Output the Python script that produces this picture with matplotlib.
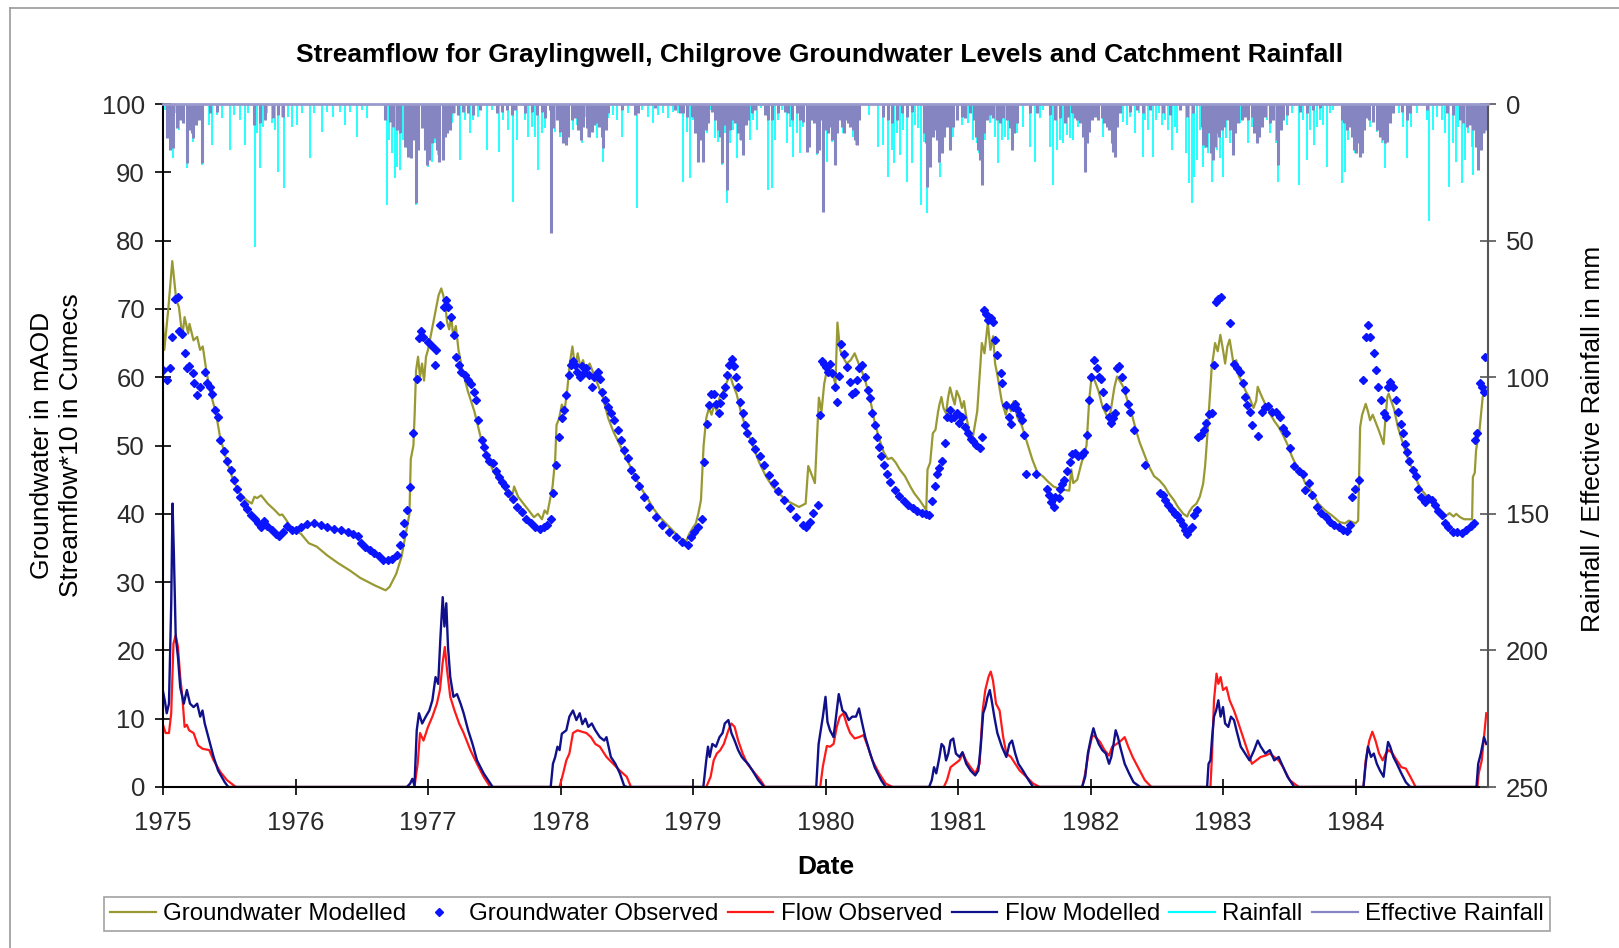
import matplotlib
matplotlib.use("Agg")
import matplotlib.pyplot as plt
from matplotlib.lines import Line2D

plt.rcParams['font.family'] = ['Liberation Sans', 'DejaVu Sans']

# ---- data (dates as decimal years) ----
years = [1975, 1976, 1977, 1978, 1979, 1980, 1981, 1982, 1983, 1984]

gw_modelled = [
    (1975.0, 68), (1975.01, 64), (1975.04, 70), (1975.07, 77), (1975.1, 71.3), (1975.12, 70.3),
    (1975.146, 66), (1975.163, 68.8), (1975.19, 66.4), (1975.2, 67.8), (1975.23, 65.4),
    (1975.258, 65.9), (1975.28, 64), (1975.3, 64.5), (1975.33, 60.6), (1975.36, 57.6),
    (1975.4, 54.7), (1975.43, 51.3), (1975.48, 47.8), (1975.53, 44.9), (1975.58, 43),
    (1975.63, 42), (1975.67, 41.5), (1975.69, 42.5), (1975.71, 42.3), (1975.74, 42.7),
    (1975.79, 41.5), (1975.84, 40.6), (1975.88, 39.8), (1975.9, 39.9), (1975.93, 39.1),
    (1975.97, 37.8), (1976.04, 37.1), (1976.1, 35.7), (1976.16, 35.2), (1976.24, 33.9),
    (1976.32, 32.8), (1976.41, 31.7), (1976.49, 30.6), (1976.6, 29.5), (1976.68, 28.8),
    (1976.71, 29.3), (1976.76, 31.2), (1976.8, 33.7), (1976.84, 37.9), (1976.86, 40),
    (1976.87, 48), (1976.89, 50), (1976.9, 55), (1976.91, 61), (1976.925, 63), (1976.94, 60),
    (1976.955, 62), (1976.97, 59.5), (1976.985, 63), (1977.0, 64), (1977.02, 66), (1977.04, 68),
    (1977.06, 70), (1977.08, 72), (1977.1, 73), (1977.115, 72), (1977.13, 70.5), (1977.145, 68),
    (1977.16, 67), (1977.175, 69), (1977.19, 66), (1977.21, 67.5), (1977.23, 64), (1977.26, 61),
    (1977.3, 58), (1977.35, 55), (1977.4, 51), (1977.45, 48), (1977.5, 46), (1977.55, 44.5),
    (1977.6, 43), (1977.63, 42), (1977.65, 44), (1977.68, 42.5), (1977.72, 41.5), (1977.76, 40.5),
    (1977.8, 39.5), (1977.83, 40), (1977.86, 39.2), (1977.88, 40.5), (1977.9, 40), (1977.92, 42),
    (1977.94, 44), (1977.96, 48), (1977.97, 53), (1977.99, 54), (1978.01, 56), (1978.03, 55),
    (1978.05, 58), (1978.07, 62), (1978.09, 64.5), (1978.11, 61.5), (1978.13, 63.5),
    (1978.15, 61.5), (1978.17, 62.5), (1978.19, 61), (1978.22, 62), (1978.25, 60.5),
    (1978.28, 59), (1978.32, 57), (1978.36, 54), (1978.4, 52), (1978.45, 50), (1978.5, 48),
    (1978.55, 46), (1978.6, 44), (1978.65, 42.5), (1978.7, 40.8), (1978.75, 39.5), (1978.8, 38.5),
    (1978.85, 37.5), (1978.9, 36.5), (1978.95, 36), (1978.97, 37), (1979.0, 38), (1979.02, 38.5),
    (1979.04, 40), (1979.06, 42), (1979.08, 50), (1979.1, 54), (1979.12, 55.5), (1979.14, 54.5),
    (1979.16, 56), (1979.18, 55), (1979.2, 57), (1979.23, 58), (1979.26, 59.5), (1979.28, 60.3),
    (1979.3, 59), (1979.33, 57.5), (1979.36, 55), (1979.4, 52.5), (1979.45, 50), (1979.5, 47.5),
    (1979.55, 45.5), (1979.6, 44), (1979.65, 43), (1979.7, 42), (1979.75, 41.5), (1979.8, 41),
    (1979.85, 41.5), (1979.87, 47), (1979.89, 46), (1979.92, 44.5), (1979.95, 57), (1979.97, 55),
    (1979.99, 59), (1980.01, 61), (1980.034, 61.5), (1980.06, 60), (1980.075, 59), (1980.09, 68),
    (1980.11, 64), (1980.13, 63), (1980.16, 62), (1980.19, 62.5), (1980.22, 63.5), (1980.25, 62),
    (1980.28, 60.6), (1980.3, 59.5), (1980.34, 56.5), (1980.37, 53.5), (1980.405, 51),
    (1980.44, 49), (1980.47, 48), (1980.5, 48.2), (1980.53, 47.5), (1980.56, 46.5), (1980.6, 45.5),
    (1980.64, 44), (1980.67, 43), (1980.71, 42), (1980.745, 41), (1980.76, 40.5), (1980.77, 46.5),
    (1980.79, 47.5), (1980.81, 51.8), (1980.83, 52.3), (1980.85, 55), (1980.86, 56),
    (1980.875, 57.1), (1980.89, 55.5), (1980.91, 54.7), (1980.925, 57), (1980.94, 58.5),
    (1980.96, 57), (1980.975, 56), (1980.99, 58), (1981.01, 57.1), (1981.03, 55.5),
    (1981.045, 56.5), (1981.06, 54.5), (1981.08, 52.5), (1981.11, 51), (1981.145, 55),
    (1981.18, 65), (1981.2, 63.5), (1981.225, 68), (1981.245, 64), (1981.265, 66), (1981.28, 62),
    (1981.3, 60), (1981.33, 56.5), (1981.36, 54.5), (1981.38, 56), (1981.4, 55), (1981.42, 56.5),
    (1981.45, 54), (1981.48, 53), (1981.52, 50.5), (1981.56, 48), (1981.6, 46), (1981.64, 45.5),
    (1981.68, 44.7), (1981.72, 44), (1981.76, 43.7), (1981.8, 43.5), (1981.84, 43.4),
    (1981.855, 46.5), (1981.87, 44.5), (1981.9, 45), (1981.93, 47.3), (1981.97, 50),
    (1981.99, 56.6), (1982.01, 60.5), (1982.03, 59.6), (1982.06, 58), (1982.09, 55.7),
    (1982.12, 54.5), (1982.14, 53.7), (1982.16, 56), (1982.18, 58.5), (1982.2, 60.1),
    (1982.22, 59.5), (1982.25, 58.5), (1982.28, 56.5), (1982.31, 54.7), (1982.34, 52.5),
    (1982.37, 50.5), (1982.4, 49), (1982.44, 47), (1982.48, 45.5), (1982.52, 44.9), (1982.56, 44),
    (1982.59, 43), (1982.63, 42), (1982.66, 41), (1982.7, 40), (1982.73, 39.6), (1982.745, 40.3),
    (1982.77, 41), (1982.8, 41.5), (1982.825, 42.5), (1982.85, 44.4), (1982.865, 47),
    (1982.88, 51), (1982.897, 56), (1982.915, 61.5), (1982.93, 63.5), (1982.94, 65),
    (1982.96, 63.8), (1982.98, 66.2), (1983.0, 64), (1983.016, 62), (1983.033, 64.5),
    (1983.05, 65.5), (1983.067, 63.5), (1983.083, 61.5), (1983.1, 62.5), (1983.12, 60.1),
    (1983.14, 59.5), (1983.17, 58), (1983.2, 57), (1983.23, 55.5), (1983.25, 56.5),
    (1983.262, 58.6), (1983.285, 57.5), (1983.32, 56), (1983.353, 54.7), (1983.39, 53.5),
    (1983.42, 52.7), (1983.454, 51.5), (1983.49, 50), (1983.52, 48.4), (1983.555, 47),
    (1983.59, 45.9), (1983.62, 44.5), (1983.66, 43.5), (1983.69, 42.5), (1983.72, 41.5),
    (1983.76, 40.7), (1983.79, 40.2), (1983.82, 39.8), (1983.85, 39.3), (1983.88, 38.8),
    (1983.92, 38.6), (1983.95, 39), (1984.0, 38.6), (1984.02, 39), (1984.035, 52.7),
    (1984.05, 54.5), (1984.077, 56.1), (1984.094, 55), (1984.11, 53.7), (1984.13, 54.5),
    (1984.15, 53.5), (1984.18, 52), (1984.212, 50.2), (1984.225, 53.7), (1984.24, 57.1),
    (1984.25, 57.6), (1984.27, 56.5), (1984.29, 55.4), (1984.32, 52.7), (1984.35, 50.8),
    (1984.38, 49), (1984.41, 47.3), (1984.44, 46.3), (1984.47, 44.5), (1984.5, 43.5),
    (1984.54, 42.5), (1984.58, 41.5), (1984.62, 40.6), (1984.66, 39.3), (1984.69, 39.8),
    (1984.71, 40.1), (1984.74, 39.6), (1984.76, 40), (1984.79, 39.5), (1984.82, 39.2),
    (1984.88, 39.2), (1984.886, 45.4), (1984.9, 46), (1984.91, 49.3), (1984.936, 52.3),
    (1984.96, 57.1), (1984.98, 58.6),
]

gw_observed = [
    (1975.002, 61.0), (1975.029, 59.6), (1975.055, 61.3), (1975.069, 65.9), (1975.089, 71.4),
    (1975.113, 71.7), (1975.123, 66.8), (1975.146, 66.3), (1975.163, 63.5), (1975.18, 61.3),
    (1975.197, 61.6), (1975.224, 60.6), (1975.237, 59.1), (1975.258, 57.4), (1975.281, 58.6),
    (1975.315, 60.8), (1975.332, 59.2), (1975.355, 58.6), (1975.372, 57.5), (1975.392, 55.2),
    (1975.416, 54.2), (1975.433, 50.8), (1975.46, 49.2), (1975.483, 47.8), (1975.51, 46.4),
    (1975.534, 44.9), (1975.561, 43.7), (1975.584, 42.5), (1975.608, 41.5), (1975.635, 40.7),
    (1975.662, 39.8), (1975.696, 39.2), (1975.719, 38.7), (1975.736, 38.0), (1975.763, 38.9),
    (1975.787, 38.2), (1975.82, 37.6), (1975.854, 37.0), (1975.878, 36.7), (1975.905, 37.4),
    (1975.938, 38.2), (1975.972, 37.7), (1976.006, 37.6), (1976.04, 38.1), (1976.09, 38.5),
    (1976.14, 38.6), (1976.191, 38.3), (1976.241, 38.1), (1976.292, 37.8), (1976.342, 37.6),
    (1976.393, 37.4), (1976.437, 37.1), (1976.471, 36.7), (1976.494, 35.7), (1976.528, 35.2),
    (1976.562, 34.7), (1976.595, 34.3), (1976.629, 33.8), (1976.663, 33.2), (1976.696, 33.2),
    (1976.73, 33.4), (1976.764, 33.9), (1976.787, 35.5), (1976.808, 37.1), (1976.821, 38.6),
    (1976.841, 40.6), (1976.861, 43.9), (1976.888, 51.8), (1976.915, 59.8), (1976.932, 65.7),
    (1976.949, 66.7), (1976.966, 65.9), (1977.0, 65.2), (1977.033, 64.5), (1977.05, 61.8),
    (1977.057, 64.0), (1977.091, 67.6), (1977.118, 70.3), (1977.134, 71.3), (1977.151, 70.3),
    (1977.175, 68.8), (1977.195, 66.2), (1977.212, 63.0), (1977.235, 61.8), (1977.252, 60.8),
    (1977.279, 60.3), (1977.303, 59.6), (1977.326, 59.0), (1977.346, 57.9), (1977.363, 56.6),
    (1977.38, 53.7), (1977.404, 50.8), (1977.421, 49.8), (1977.438, 48.6), (1977.461, 47.8),
    (1977.488, 47.5), (1977.515, 46.2), (1977.539, 45.4), (1977.562, 44.7), (1977.582, 44.0),
    (1977.606, 43.0), (1977.64, 42.1), (1977.673, 41.0), (1977.707, 40.2), (1977.741, 39.3),
    (1977.775, 38.6), (1977.808, 38.1), (1977.842, 37.8), (1977.876, 38.0), (1977.899, 38.3),
    (1977.926, 39.3), (1977.943, 43.0), (1977.966, 47.1), (1977.987, 51.3), (1978.01, 54.0),
    (1978.027, 55.2), (1978.044, 57.4), (1978.061, 60.3), (1978.078, 61.8), (1978.095, 62.3),
    (1978.111, 61.8), (1978.128, 60.8), (1978.145, 60.1), (1978.162, 61.6), (1978.179, 60.6),
    (1978.196, 61.3), (1978.213, 60.3), (1978.236, 58.6), (1978.256, 60.1), (1978.28, 60.8),
    (1978.297, 59.8), (1978.314, 57.9), (1978.337, 56.6), (1978.357, 55.7), (1978.381, 54.7),
    (1978.405, 53.7), (1978.431, 52.3), (1978.458, 50.8), (1978.482, 49.4), (1978.506, 48.1),
    (1978.532, 46.4), (1978.56, 45.4), (1978.593, 44.0), (1978.627, 42.5), (1978.667, 41.0),
    (1978.718, 39.6), (1978.768, 38.3), (1978.819, 37.4), (1978.87, 36.6), (1978.92, 35.9),
    (1978.964, 35.4), (1978.987, 36.6), (1979.011, 37.4), (1979.038, 38.1), (1979.065, 39.3),
    (1979.082, 47.6), (1979.105, 53.2), (1979.122, 55.9), (1979.139, 57.5), (1979.156, 57.6),
    (1979.173, 56.1), (1979.193, 54.7), (1979.206, 56.2), (1979.223, 57.4), (1979.24, 58.6),
    (1979.257, 60.3), (1979.274, 61.8), (1979.291, 62.6), (1979.307, 61.6), (1979.324, 60.1),
    (1979.341, 58.6), (1979.358, 56.4), (1979.375, 54.7), (1979.392, 53.0), (1979.409, 51.8),
    (1979.442, 50.6), (1979.469, 49.5), (1979.503, 48.4), (1979.537, 47.2), (1979.577, 45.7),
    (1979.611, 44.5), (1979.645, 43.3), (1979.685, 42.0), (1979.729, 40.8), (1979.779, 39.6),
    (1979.83, 38.3), (1979.853, 38.0), (1979.88, 38.8), (1979.907, 40.1), (1979.941, 41.3),
    (1979.962, 54.5), (1979.975, 62.3), (1979.99, 62.0), (1980.005, 61.5), (1980.02, 60.8),
    (1980.034, 62.0), (1980.051, 60.6), (1980.068, 58.6), (1980.085, 56.4), (1980.101, 60.2),
    (1980.118, 64.9), (1980.142, 63.4), (1980.162, 61.5), (1980.186, 59.3), (1980.202, 57.6),
    (1980.219, 57.8), (1980.236, 59.6), (1980.253, 61.3), (1980.277, 61.8), (1980.297, 60.1),
    (1980.32, 58.1), (1980.337, 56.9), (1980.354, 54.8), (1980.371, 53.0), (1980.388, 51.3),
    (1980.405, 49.8), (1980.421, 48.4), (1980.438, 47.2), (1980.465, 45.9), (1980.489, 44.7),
    (1980.523, 43.5), (1980.556, 42.6), (1980.59, 41.9), (1980.624, 41.3), (1980.657, 40.8),
    (1980.691, 40.4), (1980.725, 40.1), (1980.758, 39.9), (1980.782, 39.8), (1980.802, 41.9),
    (1980.826, 44.0), (1980.843, 45.9), (1980.859, 46.7), (1980.876, 47.8), (1980.903, 50.3),
    (1980.917, 54.2), (1980.937, 55.2), (1980.95, 54.0), (1980.971, 54.2), (1980.994, 54.7),
    (1981.011, 53.3), (1981.031, 54.2), (1981.052, 52.7), (1981.072, 51.8), (1981.095, 51.0),
    (1981.112, 50.6), (1981.139, 50.1), (1981.163, 49.6), (1981.18, 51.3), (1981.196, 69.8),
    (1981.213, 69.3), (1981.23, 68.4), (1981.247, 68.6), (1981.264, 68.1), (1981.281, 65.4),
    (1981.297, 63.2), (1981.321, 60.6), (1981.331, 59.1), (1981.365, 55.9), (1981.382, 54.2),
    (1981.399, 53.2), (1981.415, 55.7), (1981.432, 56.1), (1981.449, 55.4), (1981.466, 54.5),
    (1981.483, 53.7), (1981.5, 51.5), (1981.516, 45.9), (1981.59, 45.9), (1981.668, 43.7),
    (1981.685, 42.7), (1981.702, 41.8), (1981.725, 41.0), (1981.735, 42.5), (1981.759, 42.3),
    (1981.769, 43.7), (1981.786, 44.4), (1981.803, 44.9), (1981.82, 46.2), (1981.847, 47.6),
    (1981.86, 48.8), (1981.88, 48.9), (1981.904, 48.4), (1981.938, 48.6), (1981.954, 49.1),
    (1981.971, 51.5), (1981.988, 56.6), (1982.005, 60.1), (1982.029, 62.5), (1982.049, 61.3),
    (1982.066, 60.1), (1982.083, 59.8), (1982.096, 57.9), (1982.116, 55.7), (1982.14, 54.2),
    (1982.157, 53.3), (1982.167, 54.0), (1982.184, 54.7), (1982.197, 61.3), (1982.217, 61.6),
    (1982.241, 60.1), (1982.264, 58.1), (1982.285, 56.1), (1982.298, 54.9), (1982.325, 52.3),
    (1982.41, 47.2), (1982.521, 43.0), (1982.544, 42.8), (1982.561, 42.0), (1982.588, 41.3),
    (1982.612, 40.6), (1982.635, 40.0), (1982.655, 39.8), (1982.679, 39.1), (1982.696, 38.3),
    (1982.713, 37.6), (1982.73, 37.0), (1982.746, 37.6), (1982.763, 38.1), (1982.78, 39.8),
    (1982.804, 40.6), (1982.814, 51.3), (1982.837, 51.5), (1982.857, 52.3), (1982.874, 53.3),
    (1982.891, 54.6), (1982.915, 54.8), (1982.932, 61.8), (1982.948, 71.0), (1982.965, 71.4),
    (1982.982, 71.7), (1983.05, 68.0), (1983.083, 62.0), (1983.107, 61.3), (1983.127, 60.8),
    (1983.151, 59.2), (1983.167, 57.1), (1983.184, 55.9), (1983.201, 54.9), (1983.218, 53.0),
    (1983.262, 51.4), (1983.295, 54.9), (1983.319, 55.7), (1983.336, 55.8), (1983.37, 54.9),
    (1983.403, 54.9), (1983.43, 54.2), (1983.454, 52.5), (1983.477, 51.8), (1983.504, 49.6),
    (1983.538, 47.0), (1983.572, 46.2), (1983.605, 45.9), (1983.622, 43.5), (1983.646, 44.5),
    (1983.673, 42.8), (1983.707, 41.0), (1983.74, 40.1), (1983.774, 39.6), (1983.808, 38.8),
    (1983.841, 38.3), (1983.875, 38.0), (1983.909, 37.6), (1983.936, 37.5), (1983.959, 38.3),
    (1983.976, 42.5), (1983.993, 43.7), (1984.027, 45.0), (1984.06, 59.6), (1984.077, 65.9),
    (1984.094, 67.7), (1984.111, 65.9), (1984.138, 63.6), (1984.151, 61.1), (1984.171, 58.6),
    (1984.195, 56.6), (1984.212, 54.7), (1984.229, 54.2), (1984.246, 58.6), (1984.263, 59.3),
    (1984.286, 58.6), (1984.306, 56.6), (1984.32, 54.9), (1984.34, 53.2), (1984.357, 51.8),
    (1984.374, 50.2), (1984.391, 49.1), (1984.407, 47.8), (1984.431, 46.4), (1984.454, 45.6),
    (1984.475, 43.7), (1984.498, 42.5), (1984.522, 41.8), (1984.549, 42.3), (1984.576, 42.0),
    (1984.599, 41.3), (1984.623, 40.4), (1984.65, 39.8), (1984.677, 38.7), (1984.7, 38.0),
    (1984.734, 37.4), (1984.768, 37.4), (1984.801, 37.2), (1984.835, 37.7), (1984.869, 38.2),
    (1984.893, 38.6), (1984.903, 50.8), (1984.92, 51.8), (1984.937, 59.1), (1984.953, 58.6),
    (1984.97, 57.9), (1984.98, 63.0),
]

# streamflow * 10 (cumecs)
flow_observed = [
    (1975.0, 9.1), (1975.02, 7.9), (1975.045, 7.9), (1975.062, 10.8), (1975.079, 21),
    (1975.096, 22.2), (1975.113, 20.5), (1975.13, 16.1), (1975.146, 13.2), (1975.163, 8.8),
    (1975.18, 9.1), (1975.197, 8.3), (1975.231, 7.9), (1975.264, 6.1), (1975.298, 5.6),
    (1975.349, 5.4), (1975.382, 3.9), (1975.433, 2.2), (1975.483, 1.0), (1975.55, 0),
    (1976.898, 0), (1976.922, 3.4), (1976.94, 7.9), (1976.966, 6.8), (1977.0, 8.8),
    (1977.033, 10.3), (1977.067, 12.2), (1977.09, 14.2), (1977.11, 18.1), (1977.127, 20.5),
    (1977.144, 17.1), (1977.168, 13.2), (1977.2, 11.2), (1977.235, 9.3), (1977.269, 7.9),
    (1977.32, 5.4), (1977.37, 3.4), (1977.42, 1.5), (1977.47, 0),
    (1977.993, 0), (1978.02, 2.0), (1978.044, 3.9), (1978.067, 4.9), (1978.094, 7.9),
    (1978.128, 8.3), (1978.16, 8.1), (1978.196, 7.9), (1978.23, 7.3), (1978.263, 6.3),
    (1978.297, 5.9), (1978.347, 4.4), (1978.398, 3.4), (1978.448, 2.4), (1978.5, 1.5),
    (1978.532, 0),
    (1979.1, 0), (1979.133, 1.5), (1979.156, 3.9), (1979.18, 4.9), (1979.206, 5.4),
    (1979.233, 6.3), (1979.267, 8.3), (1979.29, 9.3), (1979.314, 8.8), (1979.341, 6.8),
    (1979.375, 4.9), (1979.41, 3.4), (1979.459, 2.2), (1979.51, 1.0), (1979.543, 0),
    (1979.96, 0), (1979.98, 3.0), (1980.01, 6.0), (1980.034, 5.9), (1980.061, 6.3),
    (1980.085, 8.8), (1980.108, 10.3), (1980.135, 10.8), (1980.162, 9.1), (1980.186, 7.9),
    (1980.22, 7.1), (1980.253, 7.3), (1980.287, 7.6), (1980.32, 5.9), (1980.354, 3.9),
    (1980.405, 2.0), (1980.455, 0.5), (1980.506, 0),
    (1980.893, 0), (1980.917, 1.0), (1980.944, 2.9), (1980.977, 3.4), (1981.01, 3.9),
    (1981.038, 4.9), (1981.06, 3.9), (1981.095, 2.9), (1981.13, 2.0), (1981.163, 3.4),
    (1981.186, 11.2), (1981.206, 14.2), (1981.23, 16.1), (1981.247, 16.9), (1981.264, 15.6),
    (1981.287, 12.2), (1981.314, 11.2), (1981.341, 7.3), (1981.365, 4.9), (1981.399, 4.4),
    (1981.432, 3.4), (1981.466, 2.4), (1981.516, 1.5), (1981.567, 0.5), (1981.617, 0),
    (1981.937, 0), (1981.96, 2.0), (1981.988, 5.4), (1982.015, 7.6), (1982.039, 7.3),
    (1982.072, 6.6), (1982.106, 5.4), (1982.14, 4.6), (1982.163, 5.9), (1982.197, 6.3),
    (1982.231, 6.8), (1982.258, 7.3), (1982.285, 5.9), (1982.318, 4.4), (1982.358, 2.9),
    (1982.41, 1.0), (1982.46, 0),
    (1982.905, 0), (1982.918, 5.0), (1982.932, 12.7), (1982.951, 16.6), (1982.965, 15.1),
    (1982.982, 16.1), (1983.0, 14.2), (1983.026, 14.6), (1983.05, 12.7), (1983.083, 11.2),
    (1983.117, 9.3), (1983.151, 7.3), (1983.184, 5.4), (1983.218, 3.4), (1983.252, 3.9),
    (1983.285, 4.4), (1983.32, 4.6), (1983.353, 4.9), (1983.387, 4.4), (1983.42, 3.9),
    (1983.454, 2.9), (1983.504, 1.0), (1983.572, 0),
    (1984.06, 0), (1984.077, 3.9), (1984.104, 6.8), (1984.127, 8.1), (1984.151, 6.8),
    (1984.178, 4.9), (1984.205, 3.9), (1984.229, 4.9), (1984.252, 5.4), (1984.279, 4.9),
    (1984.312, 3.9), (1984.346, 2.9), (1984.38, 2.7), (1984.414, 1.5), (1984.454, 0),
    (1984.92, 0), (1984.93, 2.0), (1984.953, 3.9), (1984.97, 7.3), (1984.987, 10.8),
]

flow_modelled = [
    (1975.0, 14.0), (1975.015, 12.5), (1975.028, 10.8), (1975.045, 12.2), (1975.062, 26.8),
    (1975.072, 41.5), (1975.082, 34.2), (1975.096, 22), (1975.113, 19), (1975.13, 14.6),
    (1975.157, 12.2), (1975.18, 14.2), (1975.204, 12.2), (1975.231, 11.7), (1975.258, 12.2),
    (1975.281, 10.3), (1975.298, 11.2), (1975.315, 9.3), (1975.349, 6.8), (1975.382, 4.4),
    (1975.416, 2.4), (1975.466, 0.7), (1975.493, 0),
    (1976.84, 0), (1976.865, 0.5), (1976.882, 1.2), (1976.898, 0.2), (1976.915, 8.3),
    (1976.932, 10.8), (1976.956, 9.3), (1976.983, 10.3), (1977.01, 11.2), (1977.033, 12.7),
    (1977.057, 16.1), (1977.077, 15.1), (1977.094, 22), (1977.111, 27.8), (1977.124, 23.5),
    (1977.138, 26.9), (1977.151, 20.5), (1977.168, 16.1), (1977.192, 13.2), (1977.219, 13.6),
    (1977.246, 12.2), (1977.269, 10.8), (1977.303, 8.3), (1977.336, 6.3), (1977.37, 3.9),
    (1977.42, 2.0), (1977.488, 0),
    (1977.926, 0), (1977.943, 3.4), (1977.96, 4.4), (1977.977, 5.9), (1977.993, 5.4),
    (1978.01, 7.8), (1978.044, 8.3), (1978.067, 10.3), (1978.094, 11.2), (1978.12, 9.8),
    (1978.145, 10.8), (1978.165, 9.2), (1978.188, 10), (1978.21, 8.8), (1978.236, 9.3),
    (1978.263, 8.3), (1978.297, 7.3), (1978.33, 6.8), (1978.347, 7.3), (1978.38, 4.4),
    (1978.414, 3.4), (1978.448, 2.0), (1978.48, 0.2), (1978.5, 0),
    (1979.078, 0), (1979.1, 3.9), (1979.113, 5.9), (1979.126, 4.4), (1979.146, 6.3),
    (1979.173, 5.9), (1979.2, 7.3), (1979.223, 7.9), (1979.24, 9.3), (1979.267, 9.8),
    (1979.29, 7.9), (1979.314, 6.8), (1979.341, 5.4), (1979.368, 4.4), (1979.39, 3.9),
    (1979.415, 3.4), (1979.449, 2.4), (1979.493, 1.0), (1979.537, 0),
    (1979.93, 0), (1979.948, 6.3), (1979.98, 10.3), (1980.0, 13.2), (1980.015, 9.5),
    (1980.034, 8.3), (1980.061, 7.3), (1980.085, 11.2), (1980.1, 13.6), (1980.128, 11.2),
    (1980.152, 10.8), (1980.175, 9.8), (1980.202, 10.3), (1980.23, 10.3), (1980.253, 11.5),
    (1980.277, 9.3), (1980.3, 7.3), (1980.337, 4.9), (1980.371, 2.9), (1980.42, 1.0),
    (1980.455, 0),
    (1980.782, 0), (1980.802, 1.0), (1980.819, 2.9), (1980.836, 2.0), (1980.86, 4.4),
    (1980.876, 6.3), (1980.893, 5.9), (1980.91, 3.9), (1980.927, 4.9), (1980.944, 6.8),
    (1980.964, 7.1), (1980.984, 4.9), (1981.011, 4.4), (1981.034, 5.1), (1981.062, 3.4),
    (1981.095, 2.4), (1981.13, 1.7), (1981.153, 2.4), (1981.173, 6.3), (1981.19, 10.8),
    (1981.206, 11.7), (1981.223, 13.2), (1981.24, 14.2), (1981.254, 12.7), (1981.274, 10.3),
    (1981.297, 7.9), (1981.331, 5.9), (1981.365, 4.4), (1981.388, 6.3), (1981.408, 6.8),
    (1981.432, 4.9), (1981.456, 3.4), (1981.49, 2.4), (1981.533, 1.0), (1981.567, 0),
    (1981.937, 0), (1981.96, 1.5), (1981.98, 4.9), (1982.005, 7.3), (1982.022, 8.6),
    (1982.042, 7.3), (1982.062, 6.3), (1982.089, 5.4), (1982.116, 4.9), (1982.14, 3.4),
    (1982.157, 4.4), (1982.174, 6.3), (1982.19, 8.3), (1982.207, 7.3), (1982.224, 5.9),
    (1982.258, 3.4), (1982.291, 2.0), (1982.325, 0.7), (1982.375, 0),
    (1982.88, 0), (1982.891, 3.4), (1982.905, 3.9), (1982.918, 7.3), (1982.932, 10.3),
    (1982.948, 11.2), (1982.965, 12.7), (1982.982, 10.3), (1983.0, 11.7), (1983.016, 9.3),
    (1983.04, 8.8), (1983.06, 10.3), (1983.083, 9.8), (1983.107, 7.9), (1983.134, 5.9),
    (1983.167, 4.9), (1983.2, 3.9), (1983.235, 5.4), (1983.262, 6.8), (1983.285, 5.9),
    (1983.319, 4.9), (1983.353, 5.4), (1983.387, 3.9), (1983.42, 4.4), (1983.454, 2.9),
    (1983.487, 1.5), (1983.538, 0),
    (1984.06, 0), (1984.077, 3.4), (1984.094, 5.9), (1984.117, 4.4), (1984.138, 4.9),
    (1984.161, 3.4), (1984.185, 2.4), (1984.212, 1.5), (1984.229, 4.4), (1984.246, 6.6),
    (1984.262, 5.9), (1984.286, 4.4), (1984.312, 3.4), (1984.346, 2.0), (1984.38, 0.7),
    (1984.414, 0),
    (1984.913, 0), (1984.926, 3.4), (1984.946, 4.9), (1984.97, 7.3), (1984.987, 6.3),
]

# rainfall in mm
rainfall = [
    (1975.015, 2.2), (1975.04, 5.9), (1975.073, 19.9), (1975.098, 3.4), (1975.123, 9.5),
    (1975.153, 5.2), (1975.178, 23.5), (1975.203, 7.1), (1975.229, 13.8), (1975.254, 5.9),
    (1975.291, 22.3), (1975.349, 7.7), (1975.367, 15.0), (1975.405, 4.0), (1975.442, 5.2),
    (1975.505, 16.8), (1975.535, 4.0), (1975.581, 5.9), (1975.619, 15.0), (1975.644, 3.4),
    (1975.694, 52.2), (1975.712, 10.7), (1975.732, 23.5), (1975.757, 8.3), (1975.787, 3.4),
    (1975.82, 7.1), (1975.845, 9.5), (1975.87, 24.8), (1975.895, 4.6), (1975.913, 30.9),
    (1975.946, 4.6), (1975.971, 8.3), (1976.008, 7.7), (1976.046, 3.4), (1976.109, 19.9),
    (1976.139, 3.4), (1976.197, 10.1), (1976.235, 2.8), (1976.285, 4.6), (1976.335, 2.8),
    (1976.373, 7.7), (1976.411, 2.8), (1976.461, 12.0), (1976.499, 2.2), (1976.537, 5.2),
    (1976.688, 37.0), (1976.708, 13.2), (1976.725, 18.0), (1976.751, 27.2), (1976.768, 22.9),
    (1976.788, 24.1), (1976.813, 13.2), (1976.839, 16.2), (1976.859, 19.3), (1976.889, 8.3),
    (1976.909, 37.0), (1976.952, 8.9), (1976.977, 8.9), (1977.002, 22.9), (1977.027, 21.1),
    (1977.053, 14.4), (1977.078, 18.7), (1977.11, 20.5), (1977.141, 8.3), (1977.178, 7.1),
    (1977.203, 3.4), (1977.241, 20.5), (1977.279, 5.9), (1977.317, 10.7), (1977.342, 5.9),
    (1977.38, 4.6), (1977.442, 16.8), (1977.48, 2.2),
    (1977.536, 17.4), (1977.569, 5.9), (1977.607, 9.5), (1977.644, 35.7), (1977.67, 13.2),
    (1977.732, 5.9), (1977.758, 12.0), (1977.783, 8.3), (1977.808, 12.0), (1977.833, 24.1),
    (1977.858, 10.7), (1977.883, 8.9), (1977.929, 47.3), (1977.959, 10.1), (1977.997, 12.0),
    (1978.022, 14.4), (1978.047, 15.0), (1978.064, 12.0), (1978.097, 9.5), (1978.122, 7.7),
    (1978.16, 14.4), (1978.185, 4.6), (1978.21, 12.0), (1978.236, 10.1), (1978.273, 12.6),
    (1978.298, 7.7), (1978.324, 21.1), (1978.361, 5.2), (1978.399, 4.0), (1978.424, 5.9),
    (1978.462, 12.0), (1978.512, 3.4), (1978.575, 38.2), (1978.613, 2.2), (1978.663, 4.6),
    (1978.701, 7.1), (1978.739, 4.0), (1978.776, 3.4), (1978.814, 5.2), (1978.852, 2.8),
    (1978.89, 3.4), (1978.927, 28.4), (1978.953, 10.1), (1978.978, 27.2), (1979.003, 5.9),
    (1979.041, 21.1), (1979.078, 21.1), (1979.103, 10.7), (1979.136, 2.2), (1979.166, 12.6),
    (1979.192, 13.8), (1979.217, 22.3), (1979.242, 10.7), (1979.26, 36.3), (1979.28, 14.4),
    (1979.305, 9.5), (1979.33, 19.9), (1979.355, 13.2), (1979.38, 18.7), (1979.405, 5.9),
    (1979.431, 13.2), (1979.456, 5.9), (1979.481, 9.5), (1979.514, 1.6), (1979.564, 31.5),
    (1979.594, 30.9), (1979.619, 13.2), (1979.644, 5.9), (1979.669, 2.2), (1979.707, 14.4),
    (1979.732, 8.3), (1979.758, 19.3), (1979.783, 10.7), (1979.808, 18.0), (1979.833, 8.3),
    (1979.858, 17.4), (1979.896, 3.4), (1979.934, 18.7), (1979.959, 9.5), (1979.984, 39.4),
    (1980.009, 21.1),
    (1980.047, 13.8), (1980.072, 22.3), (1980.104, 5.9), (1980.135, 10.7), (1980.16, 5.9),
    (1980.185, 7.1), (1980.21, 12.0), (1980.23, 15.0), (1980.255, 5.9), (1980.331, 4.0),
    (1980.399, 15.6), (1980.437, 15.0), (1980.474, 26.6), (1980.5, 16.8), (1980.517, 21.7),
    (1980.537, 10.7), (1980.562, 18.7), (1980.587, 9.5), (1980.613, 28.4), (1980.65, 21.7),
    (1980.676, 7.7), (1980.701, 8.9), (1980.718, 37.0), (1980.743, 13.8), (1980.769, 40.0),
    (1980.789, 22.9), (1980.814, 10.7), (1980.839, 13.2), (1980.864, 26.6), (1980.889, 12.0),
    (1980.909, 3.4), (1980.94, 16.8), (1980.965, 12.0), (1981.003, 5.9), (1981.028, 7.7),
    (1981.053, 5.2), (1981.078, 7.1), (1981.111, 13.2), (1981.141, 14.4), (1981.161, 18.0),
    (1981.179, 29.6), (1981.204, 13.2), (1981.242, 7.1), (1981.279, 12.0), (1981.304, 21.7),
    (1981.33, 13.2), (1981.355, 12.0), (1981.38, 13.2), (1981.405, 16.8), (1981.443, 10.7),
    (1981.493, 8.3), (1981.543, 15.6), (1981.581, 21.1), (1981.619, 5.2), (1981.644, 2.2),
    (1981.694, 15.6), (1981.72, 29.6), (1981.745, 16.8), (1981.77, 13.2), (1981.795, 14.4),
    (1981.82, 11.3), (1981.845, 12.6), (1981.871, 13.2), (1981.908, 8.3), (1981.958, 24.8),
    (1981.991, 10.1), (1982.021, 3.4), (1982.059, 5.9), (1982.097, 12.0), (1982.122, 7.1),
    (1982.16, 14.4), (1982.185, 19.3), (1982.203, 8.3), (1982.223, 3.4), (1982.248, 6.5),
    (1982.273, 7.7), (1982.298, 4.6), (1982.336, 10.7), (1982.369, 3.4), (1982.394, 19.3),
    (1982.411, 5.9), (1982.436, 9.5), (1982.469, 19.3), (1982.494, 5.9), (1982.52, 3.4),
    (1982.538, 7.7), (1982.563, 5.9), (1982.588, 9.5), (1982.613, 16.8), (1982.638, 8.3),
    (1982.656, 10.7), (1982.721, 18.0), (1982.746, 29.0), (1982.764, 36.3), (1982.782, 26.6),
    (1982.802, 20.5), (1982.827, 9.5), (1982.847, 22.9), (1982.865, 16.2), (1982.89, 18.0),
    (1982.915, 28.4), (1982.94, 15.6), (1982.958, 16.8), (1982.978, 19.9), (1982.998, 26.6),
    (1983.023, 12.6), (1983.053, 14.4), (1983.073, 18.7), (1983.099, 5.9), (1983.129, 7.1),
    (1983.154, 2.2), (1983.192, 14.4), (1983.217, 8.3), (1983.242, 10.1), (1983.255, 14.4),
    (1983.275, 12.0), (1983.305, 7.7), (1983.33, 5.9), (1983.355, 10.7), (1983.38, 5.9),
    (1983.4, 14.4), (1983.418, 28.4), (1983.443, 8.3), (1983.481, 7.7), (1983.519, 3.4),
    (1983.577, 29.6), (1983.607, 5.9), (1983.632, 20.5), (1983.657, 9.5), (1983.687, 15.0),
    (1983.707, 8.3), (1983.733, 5.9), (1983.758, 7.7), (1983.783, 22.9), (1983.808, 3.4),
    (1983.833, 2.2), (1983.896, 29.0), (1983.921, 24.8), (1983.946, 13.2), (1983.972, 10.7),
    (1983.997, 18.0), (1984.022, 14.4), (1984.039, 19.3), (1984.06, 9.5), (1984.085, 5.2),
    (1984.11, 8.3), (1984.135, 5.9), (1984.16, 10.1), (1984.198, 14.4), (1984.223, 23.5),
    (1984.236, 13.8), (1984.261, 7.1), (1984.286, 3.4), (1984.331, 3.4), (1984.361, 8.3),
    (1984.392, 19.9), (1984.417, 8.3), (1984.462, 3.4), (1984.538, 5.9), (1984.558, 43.0),
    (1984.583, 9.5), (1984.613, 4.6), (1984.651, 5.9), (1984.676, 10.7), (1984.709, 30.2),
    (1984.739, 14.4), (1984.759, 21.1), (1984.777, 8.3), (1984.802, 29.0), (1984.827, 20.5),
    (1984.852, 10.7), (1984.877, 15.6), (1984.89, 26.0), (1984.91, 15.6), (1984.927, 24.1),
    (1984.953, 13.2), (1984.978, 10.7),
]

effective_rainfall = [
    (1975.027, 12.6), (1975.052, 16.8), (1975.073, 16.2), (1975.103, 8.9), (1975.128, 5.9),
    (1975.153, 7.1), (1975.178, 21.7), (1975.198, 9.5), (1975.216, 10.7), (1975.229, 12.6),
    (1975.249, 7.7), (1975.274, 5.9), (1975.291, 21.7), (1975.354, 3.4), (1975.405, 2.8),
    (1975.689, 7.7), (1975.732, 7.1), (1975.77, 5.9), (1975.832, 5.2), (1975.87, 4.0),
    (1975.908, 4.6), (1976.675, 5.9), (1976.713, 6.5), (1976.738, 8.3), (1976.763, 9.5),
    (1976.788, 10.7), (1976.826, 15.6), (1976.851, 19.3), (1976.869, 19.9), (1976.889, 13.2),
    (1976.909, 36.3), (1976.927, 16.8), (1976.952, 8.9), (1976.977, 16.8), (1976.99, 22.3),
    (1977.01, 20.5), (1977.027, 14.4), (1977.045, 12.6), (1977.065, 16.8), (1977.085, 21.1),
    (1977.11, 20.5), (1977.128, 12.0), (1977.146, 10.7), (1977.166, 9.5), (1977.191, 3.4),
    (1977.229, 4.0), (1977.266, 2.8), (1977.304, 3.4), (1977.342, 4.0), (1977.392, 2.2),
    (1977.519, 3.4), (1977.556, 2.8), (1977.594, 2.2), (1977.632, 4.0), (1977.657, 2.2),
    (1977.732, 3.4), (1977.783, 2.8), (1977.82, 4.0), (1977.858, 2.8), (1977.883, 5.2),
    (1977.921, 2.2), (1977.929, 47.3), (1977.946, 8.9), (1977.971, 5.9), (1977.997, 10.1),
    (1978.022, 14.4), (1978.039, 15.0), (1978.059, 12.0), (1978.085, 5.9), (1978.11, 5.2),
    (1978.135, 9.5), (1978.155, 13.2), (1978.173, 8.3), (1978.198, 8.9), (1978.215, 12.0),
    (1978.236, 10.1), (1978.256, 7.7), (1978.273, 7.1), (1978.291, 8.3), (1978.311, 12.0),
    (1978.324, 16.2), (1978.341, 9.5), (1978.361, 3.4), (1978.462, 2.2), (1978.563, 4.0),
    (1978.588, 3.4), (1978.714, 1.6), (1978.864, 2.2), (1978.902, 3.4), (1978.927, 3.4),
    (1978.953, 4.6), (1978.99, 4.6), (1979.015, 10.7), (1979.036, 21.1), (1979.053, 13.2),
    (1979.078, 21.1), (1979.096, 9.5), (1979.116, 7.1), (1979.141, 2.8), (1979.166, 5.9),
    (1979.186, 9.5), (1979.204, 12.0), (1979.222, 21.7), (1979.242, 7.7), (1979.26, 31.5),
    (1979.28, 9.5), (1979.297, 5.9), (1979.317, 7.1), (1979.343, 10.7), (1979.363, 13.2),
    (1979.38, 18.7), (1979.398, 7.7), (1979.418, 5.9), (1979.443, 3.4), (1979.468, 2.2),
    (1979.544, 4.0), (1979.569, 5.9), (1979.594, 5.9), (1979.644, 3.4), (1979.695, 2.8),
    (1979.72, 3.4), (1979.745, 5.9), (1979.783, 3.4), (1979.808, 5.9), (1979.833, 6.5),
    (1979.858, 17.4), (1979.876, 15.6), (1979.896, 5.9), (1979.916, 7.1), (1979.934, 18.0),
    (1979.951, 16.8), (1979.971, 5.9), (1979.984, 39.4), (1980.002, 9.5), (1980.022, 10.7),
    (1980.034, 8.3), (1980.047, 13.2), (1980.059, 8.3), (1980.072, 22.3), (1980.084, 10.7),
    (1980.104, 5.9), (1980.122, 8.3), (1980.14, 10.7), (1980.16, 5.9), (1980.172, 7.1),
    (1980.185, 8.3), (1980.205, 9.5), (1980.223, 13.2), (1980.235, 15.0), (1980.255, 5.9),
    (1980.437, 4.6), (1980.474, 5.9), (1980.5, 7.1), (1980.537, 5.9), (1980.575, 3.4),
    (1980.613, 4.6), (1980.65, 2.8), (1980.743, 10.7), (1980.759, 14.4), (1980.769, 30.2),
    (1980.789, 22.9), (1980.809, 12.0), (1980.826, 9.5), (1980.839, 13.2), (1980.859, 21.1),
    (1980.877, 18.0), (1980.894, 12.0), (1980.915, 8.3), (1980.94, 16.8), (1980.96, 8.3),
    (1980.99, 5.9), (1981.028, 4.6), (1981.053, 5.2), (1981.091, 3.4), (1981.121, 5.9),
    (1981.136, 12.0), (1981.154, 16.8), (1981.166, 20.5), (1981.179, 29.6), (1981.196, 10.7),
    (1981.216, 5.9), (1981.242, 4.0), (1981.267, 5.2), (1981.292, 5.9), (1981.317, 7.1),
    (1981.342, 5.2), (1981.367, 5.9), (1981.393, 8.9), (1981.405, 16.8), (1981.423, 10.7),
    (1981.443, 7.1), (1981.543, 3.4), (1981.594, 3.4), (1981.694, 4.0), (1981.732, 5.9),
    (1981.77, 5.2), (1981.808, 7.1), (1981.833, 4.6), (1981.858, 3.4), (1981.883, 5.2),
    (1981.901, 5.9), (1981.921, 7.1), (1981.941, 12.0), (1981.958, 24.8), (1981.971, 14.4),
    (1981.991, 10.1), (1982.009, 5.9), (1982.034, 4.6), (1982.059, 5.9), (1982.084, 5.2),
    (1982.102, 7.1), (1982.122, 8.3), (1982.142, 9.5), (1982.16, 14.4), (1982.172, 17.4),
    (1982.185, 19.3), (1982.203, 8.3), (1982.223, 3.4), (1982.298, 2.8), (1982.348, 2.2),
    (1982.399, 3.4), (1982.449, 2.2),
    (1982.55, 3.4), (1982.6, 4.0), (1982.676, 2.2), (1982.726, 4.6), (1982.777, 3.4),
    (1982.839, 8.3), (1982.852, 15.0), (1982.872, 15.6), (1982.89, 10.7), (1982.907, 18.0),
    (1982.923, 20.5), (1982.94, 15.6), (1982.958, 10.7), (1982.973, 12.0), (1982.99, 9.5),
    (1983.008, 8.3), (1983.028, 5.9), (1983.053, 9.5), (1983.073, 18.7), (1983.091, 10.7),
    (1983.116, 7.1), (1983.141, 5.9), (1983.167, 4.6), (1983.192, 5.9), (1983.217, 4.6),
    (1983.237, 10.7), (1983.255, 14.4), (1983.275, 12.0), (1983.292, 8.3), (1983.317, 4.6),
    (1983.355, 7.1), (1983.38, 5.9), (1983.405, 13.2), (1983.418, 22.3), (1983.436, 9.5),
    (1983.456, 5.9), (1983.481, 4.0), (1983.582, 2.8), (1983.632, 3.4), (1983.682, 2.2),
    (1983.733, 1.6), (1983.896, 5.9), (1983.914, 7.1), (1983.934, 9.5), (1983.954, 8.3),
    (1983.972, 12.0), (1983.989, 16.8), (1984.004, 18.0), (1984.022, 14.4), (1984.034, 19.3),
    (1984.047, 18.0), (1984.065, 9.5), (1984.085, 5.2), (1984.105, 5.9), (1984.135, 6.5),
    (1984.16, 9.5), (1984.185, 12.0), (1984.205, 13.2), (1984.223, 14.4), (1984.241, 13.8),
    (1984.261, 7.1), (1984.286, 3.4), (1984.349, 2.8), (1984.387, 5.9), (1984.412, 3.4),
    (1984.538, 2.2), (1984.689, 3.4), (1984.739, 4.0), (1984.789, 5.9), (1984.814, 7.1),
    (1984.839, 8.3), (1984.865, 7.7), (1984.89, 9.5), (1984.91, 15.6), (1984.927, 24.1),
    (1984.945, 16.8), (1984.965, 10.7), (1984.978, 9.5),
]

labels = ['Groundwater Modelled', 'Groundwater Observed', 'Flow Observed',
          'Flow Modelled', 'Rainfall', 'Effective Rainfall']
colors = ['#999933', '#0a14ff', '#ff1a1a', '#10108a', '#00ffff', '#8585c2']


def split(pairs):
    return [p[0] for p in pairs], [p[1] for p in pairs]


fig = plt.figure(figsize=(16.19, 9.48), dpi=100)
ax = fig.add_axes([163 / 1619, 1 - 787 / 948, 1325 / 1619, 683 / 948])
ax2 = ax.twinx()

# rainfall hanging from the top (right axis, inverted)
t, v = split(rainfall)
ax2.vlines(t, 0, v, color=colors[4], lw=1.2)
t, v = split(effective_rainfall)
ax2.vlines(t, 0, v, color=colors[5], lw=2.2)

t, v = split(gw_modelled)
ax.plot(t, v, color=colors[0], lw=1.6)
t, v = split(gw_observed)
ax.plot(t, v, ls='none', marker='D', ms=4.5, color=colors[1], mec=colors[1])
t, v = split(flow_observed)
ax.plot(t, v, color=colors[2], lw=1.6)
t, v = split(flow_modelled)
ax.plot(t, v, color=colors[3], lw=1.7)

ax.set_xlim(1975, 1985)
ax.set_ylim(0, 100)
ax2.set_ylim(250, 0)

ax.set_xticks(years)
ax.set_xticklabels([str(y) for y in years])
ax.set_yticks(range(0, 101, 10))
ax2.set_yticks(range(0, 251, 50))

tick_col = '#2a2a2a'
ax.tick_params(axis='x', direction='inout', length=12, width=1.2, pad=11,
               labelsize=18.5, labelcolor=tick_col)
ax.tick_params(axis='y', direction='inout', length=12, width=1.2, pad=7,
               labelsize=18.5, labelcolor=tick_col)
ax2.tick_params(axis='y', direction='inout', length=12, width=1.2, pad=7,
                labelsize=18.5, labelcolor=tick_col, color='#555555')

for s in ['top', 'right']:
    ax.spines[s].set_visible(False)
ax.spines['left'].set_linewidth(1.5)
ax.spines['bottom'].set_linewidth(1.5)
ax2.spines['left'].set_visible(False)
ax2.spines['bottom'].set_visible(False)
ax2.spines['right'].set_color('#555555')
ax2.spines['right'].set_linewidth(1.5)
ax2.spines['top'].set_color('#9a9acc')
ax2.spines['top'].set_linewidth(2)

ax.set_ylabel('Groundwater in mAOD\nStreamflow*10 in Cumecs', fontsize=19,
              linespacing=1.3)
ax.yaxis.set_label_coords(-0.06, 0.5)
ax2.set_ylabel('Rainfall / Effective Rainfall in mm', fontsize=19)
ax2.yaxis.set_label_coords(1.07, 0.51)
ax.set_xlabel('Date', fontsize=19, fontweight='bold')
ax.xaxis.set_label_coords(0.5, -0.10)

fig.text(0.5063, 1 - 55 / 948, 'Streamflow for Graylingwell, Chilgrove Groundwater Levels '
         'and Catchment Rainfall', ha='center', va='center', fontsize=19,
         fontweight='bold')

handles = [
    Line2D([], [], color=colors[0], lw=1.6),
    Line2D([], [], ls='none', marker='D', ms=4.5, color=colors[1]),
    Line2D([], [], color=colors[2], lw=1.6),
    Line2D([], [], color=colors[3], lw=1.6),
    Line2D([], [], color=colors[4], lw=1.6),
    Line2D([], [], color=colors[5], lw=1.6),
]
leg = fig.legend(handles, labels, loc='center', bbox_to_anchor=(827 / 1619, 1 - 914 / 948),
                 ncol=6, fontsize=17.3, frameon=True, fancybox=False, edgecolor='#8a8a8a',
                 handlelength=1.9, handletextpad=0.3, columnspacing=0.4,
                 borderpad=0.25, borderaxespad=0)
leg.get_frame().set_linewidth(1.2)

# outer chart-area border
fig.add_artist(Line2D([10 / 1619, 10 / 1619], [0, 1 - 8 / 948], color='#9a9a9a', lw=1.2))
fig.add_artist(Line2D([10 / 1619, 1], [1 - 8 / 948, 1 - 8 / 948], color='#9a9a9a', lw=1.2))

fig.savefig('out.png', dpi=100)
